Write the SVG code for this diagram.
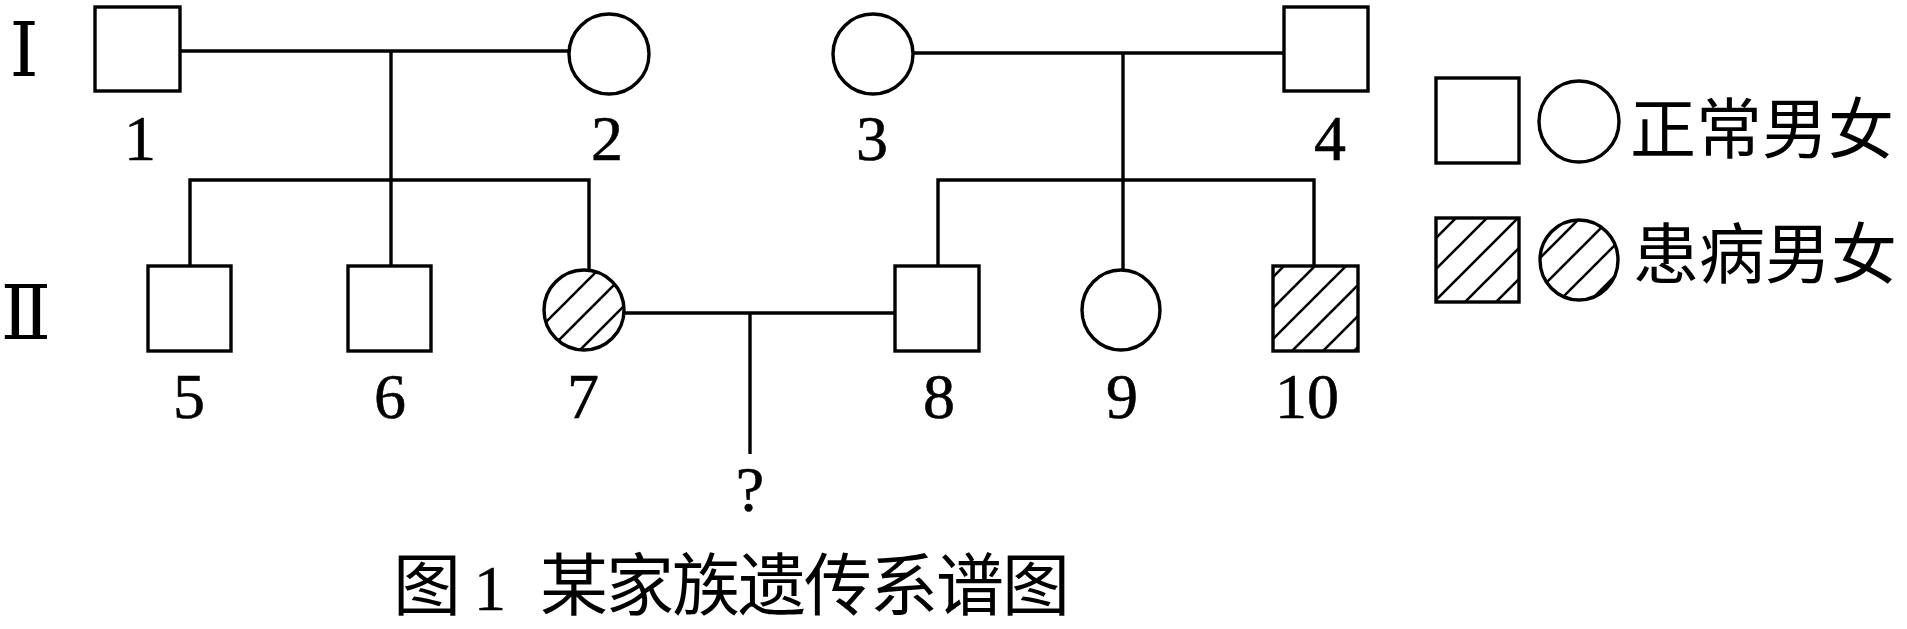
<svg xmlns="http://www.w3.org/2000/svg" width="1907" height="629" viewBox="0 0 1907 629">
<style>
.sh{fill:#fff;stroke:#000;stroke-width:3.4}
.ht{fill:url(#hatch);stroke:#000;stroke-width:3.4}
.ln{stroke:#000;stroke-width:3.4;fill:none}
.num{font-family:"Liberation Serif","Times New Roman",serif;font-size:64px;fill:#000;stroke:#000;stroke-width:0.6;text-anchor:middle}
.rom{font-family:"DejaVu Serif","Liberation Serif",serif;font-size:74px;fill:#000;text-anchor:middle}
.cjk{font-family:"Noto Sans CJK SC","Noto Sans CJK TC",sans-serif;fill:#000}
</style>
<defs>
<pattern id="hatch" patternUnits="userSpaceOnUse" width="31" height="31">
<rect width="31" height="31" fill="#fff"/>
<path d="M-2,33 L33,-2 M-8,8 L8,-8 M23,39 L39,23" stroke="#000" stroke-width="2.6"/>
</pattern>
</defs>
<rect width="1907" height="629" fill="#fff"/>
<g id="generations">
<text class="rom" x="24" y="76">Ⅰ</text>
<text class="rom" x="26" y="339">Ⅱ</text>
</g>
<g id="connectors">
<line class="ln" x1="180" y1="51" x2="569" y2="51"/>
<line class="ln" x1="391" y1="51" x2="391" y2="266"/>
<polyline class="ln" points="190,266 190,180 589,180 589,270"/>
<line class="ln" x1="913" y1="53" x2="1284" y2="53"/>
<line class="ln" x1="1123" y1="53" x2="1123" y2="270"/>
<polyline class="ln" points="938,266 938,180 1314,180 1314,266"/>
<line class="ln" x1="623" y1="313" x2="895" y2="313"/>
<line class="ln" x1="750" y1="313" x2="750" y2="454"/>
</g>
<g id="n1"><rect class="sh" x="95" y="7" width="85" height="84"/><text class="num" x="140" y="160">1</text></g>
<g id="n2"><ellipse class="sh" cx="609" cy="54" rx="40" ry="40"/><text class="num" x="607" y="160">2</text></g>
<g id="n3"><ellipse class="sh" cx="873" cy="54" rx="40" ry="40"/><text class="num" x="872" y="160">3</text></g>
<g id="n4"><rect class="sh" x="1284" y="7" width="84" height="84"/><text class="num" x="1330" y="160">4</text></g>
<g id="n5"><rect class="sh" x="148" y="266" width="83" height="85"/><text class="num" x="189" y="418">5</text></g>
<g id="n6"><rect class="sh" x="348" y="266" width="83" height="85"/><text class="num" x="390" y="418">6</text></g>
<g id="n7"><ellipse class="ht" cx="584" cy="310" rx="40" ry="40"/><text class="num" x="583" y="418">7</text></g>
<g id="n8"><rect class="sh" x="895" y="266" width="84" height="85"/><text class="num" x="939" y="418">8</text></g>
<g id="n9"><ellipse class="sh" cx="1121" cy="310" rx="39" ry="40"/><text class="num" x="1122" y="418">9</text></g>
<g id="n10"><rect class="ht" x="1273" y="266" width="85" height="85"/><text class="num" x="1307" y="418">10</text></g>
<g id="child"><text class="num" x="750" y="511">?</text></g>
<g id="legend">
<rect class="sh" x="1436" y="78" width="83" height="85"/>
<ellipse class="sh" cx="1579" cy="121.5" rx="40" ry="40.5"/>
<text class="cjk" x="1630" y="153" font-size="66">正常男女</text>
<rect class="ht" x="1436" y="218" width="83" height="84"/>
<ellipse class="ht" cx="1579" cy="260" rx="39" ry="40"/>
<text class="cjk" x="1633" y="278" font-size="66">患病男女</text>
</g>
<g id="caption">
<text y="610"><tspan class="cjk" x="393" font-size="68">图</tspan><tspan class="num" x="490" font-size="66">1</tspan><tspan class="cjk" x="540" font-size="68" textLength="530" lengthAdjust="spacing">某家族遗传系谱图</tspan></text>
</g>
</svg>
